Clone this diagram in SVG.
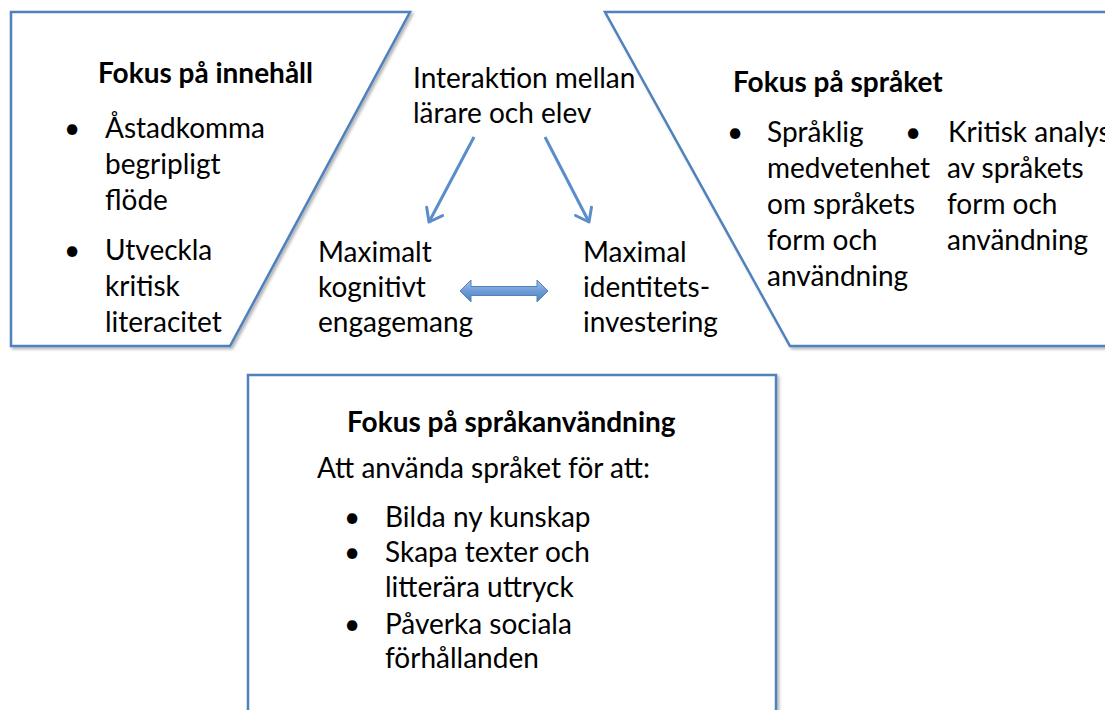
<svg xmlns="http://www.w3.org/2000/svg" width="1105" height="710" viewBox="0 0 1105 710">
  <style>
    .shape { fill: #ffffff; stroke: #4F81BD; stroke-width: 2.5; filter: url(#shadow); }
    .t { font-family: Lato, "Liberation Sans", sans-serif; font-size: 28px; fill: #000000; }
    .h { font-family: Lato, "Liberation Sans", sans-serif; font-size: 28px; font-weight: bold; fill: #000000; }
    .conn { fill: none; stroke: #5B8DCB; stroke-width: 3; }
  </style>
  <defs>
    <filter id="shadow" x="-5%" y="-5%" width="110%" height="110%">
      <feDropShadow dx="2" dy="2" stdDeviation="1.5" flood-color="#000000" flood-opacity="0.3"/>
    </filter>
    <marker id="open" markerUnits="userSpaceOnUse" markerWidth="20" markerHeight="24" refX="16" refY="12" orient="auto" viewBox="0 0 20 24">
      <path d="M4,3 L16,12 L4,21" fill="none" stroke="#5B8DCB" stroke-width="3" stroke-linecap="round" stroke-linejoin="round"/>
    </marker>
    <linearGradient id="dbl" x1="0" y1="0" x2="0" y2="1">
      <stop offset="0" stop-color="#A9C4EA"/>
      <stop offset="0.5" stop-color="#6E9BD6"/>
      <stop offset="1" stop-color="#4F81BD"/>
    </linearGradient>
  </defs>
  <rect width="1105" height="710" fill="#ffffff"/>

  <g id="fokus-innehall">
    <polygon class="shape" points="11,12 410,12 230,346 11,346"/>
    <text class="h" x="98" y="83">Fokus på innehåll</text>
    <text class="t" x="64" y="138">•</text>
    <text class="t" x="105" y="138">Åstadkomma</text>
    <text class="t" x="105" y="174">begripligt</text>
    <text class="t" x="105" y="210">flöde</text>
    <text class="t" x="64" y="260">•</text>
    <text class="t" x="105" y="260">Utveckla</text>
    <text class="t" x="105" y="296">kritisk</text>
    <text class="t" x="105" y="332">literacitet</text>
  </g>

  <g id="fokus-spraket">
    <polyline class="shape" points="1115,12 605,12 790,346 1115,346"/>
    <text class="h" x="733" y="92">Fokus på språket</text>
    <text class="t" x="727" y="142">•</text>
    <text class="t" x="767" y="142">Språklig</text>
    <text class="t" x="767" y="178">medvetenhet</text>
    <text class="t" x="767" y="214">om språkets</text>
    <text class="t" x="767" y="250">form och</text>
    <text class="t" x="767" y="286">användning</text>
    <text class="t" x="905" y="142">•</text>
    <text class="t" x="948" y="142">Kritisk analys</text>
    <text class="t" x="947" y="178">av språkets</text>
    <text class="t" x="947" y="214">form och</text>
    <text class="t" x="947" y="250">användning</text>
  </g>

  <g id="interaktion">
    <text class="t" x="413" y="88">Interaktion mellan</text>
    <text class="t" x="413" y="123">lärare och elev</text>
  </g>

  <g id="kognitivt">
    <text class="t" x="318" y="262">Maximalt</text>
    <text class="t" x="318" y="297">kognitivt</text>
    <text class="t" x="318" y="332">engagemang</text>
  </g>

  <g id="identitet">
    <text class="t" x="583" y="262">Maximal</text>
    <text class="t" x="583" y="297">identitets-</text>
    <text class="t" x="583" y="332">investering</text>
  </g>

  <g id="fokus-sprakanvandning">
    <rect class="shape" x="248" y="375" width="528" height="345"/>
    <text class="h" x="347" y="432">Fokus på språkanvändning</text>
    <text class="t" x="317" y="478">Att använda språket för att:</text>
    <text class="t" x="344" y="527">•</text>
    <text class="t" x="385" y="527">Bilda ny kunskap</text>
    <text class="t" x="344" y="562">•</text>
    <text class="t" x="385" y="562">Skapa texter och</text>
    <text class="t" x="385" y="597">litterära uttryck</text>
    <text class="t" x="344" y="634">•</text>
    <text class="t" x="385" y="634">Påverka sociala</text>
    <text class="t" x="385" y="668">förhållanden</text>
  </g>

  <g id="connectors">
    <line class="conn" x1="474" y1="137" x2="429" y2="222" marker-end="url(#open)"/>
    <line class="conn" x1="545" y1="137" x2="589" y2="222" marker-end="url(#open)"/>
    <polygon points="460,291 471,280 471,286.5 537,286.5 537,280 548,291 537,302 537,295.5 471,295.5 471,302" fill="url(#dbl)" stroke="#4F81BD" stroke-width="1"/>
  </g>
</svg>
